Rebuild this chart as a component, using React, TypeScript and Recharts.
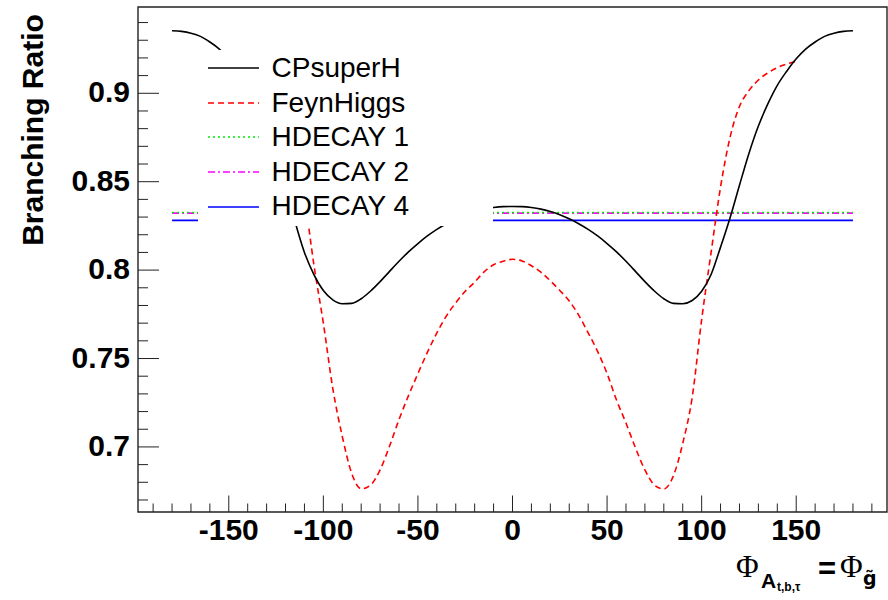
import { LineChart, Line, XAxis, YAxis, Legend, ReferenceArea } from "recharts";

document.body.style.margin = "0";

const FONT = '"Liberation Sans", Arial, Helvetica, sans-serif';
const SERIF = '"Liberation Serif", "DejaVu Serif", serif';

// phase grid for CPsuperH (degrees)
const phases = [
  -180, -175, -170, -165, -160, -155, -150, -145, -140, -135, -130, -125, -120,
  -115, -110, -105, -100, -95, -90, -85, -80, -75, -70, -65, -60, -55, -50, -45,
  -40, -35, -30, -25, -20, -15, -10, -5, 0, 5, 10, 15, 20, 25, 30, 35, 40, 45,
  50, 55, 60, 65, 70, 75, 80, 85, 90, 95, 100, 105, 110, 115, 120, 125, 130,
  135, 140, 145, 150, 155, 160, 165, 170, 175, 180,
];

const cpsuperh = [
  0.9354, 0.935, 0.934, 0.9322, 0.929, 0.925, 0.9195, 0.913, 0.905, 0.894,
  0.881, 0.865, 0.848, 0.8275, 0.81, 0.7975, 0.7885, 0.7832, 0.781, 0.7812,
  0.7838, 0.7882, 0.7935, 0.7993, 0.805, 0.8103, 0.815, 0.8193, 0.823, 0.8262,
  0.829, 0.8313, 0.8331, 0.8345, 0.8354, 0.8359, 0.836, 0.8359, 0.8354,
  0.8345, 0.8331, 0.8313, 0.829, 0.8262, 0.823, 0.8193, 0.815, 0.8103, 0.805,
  0.7993, 0.7935, 0.7882, 0.7838, 0.7812, 0.781, 0.7828, 0.788, 0.7975, 0.813,
  0.8295, 0.848, 0.866, 0.8815, 0.894, 0.9045, 0.9125, 0.9195, 0.925, 0.929,
  0.9322, 0.934, 0.935, 0.9354,
];

// FeynHiggs only covers -150..150
const feynPhases = [
  -150, -145, -140, -135, -130, -125, -120, -115, -110, -105, -100, -95, -90,
  -85, -80, -75, -70, -65, -60, -55, -50, -45, -40, -35, -30, -25, -20, -15,
  -10, -5, 0, 5, 10, 15, 20, 25, 30, 35, 40, 45, 50, 55, 60, 65, 70, 75, 80,
  85, 90, 95, 100, 105, 110, 115, 120, 125, 130, 135, 140, 145, 150,
];

const feynhiggs = [
  0.918, 0.9165, 0.9145, 0.9115, 0.9075, 0.9015, 0.8925, 0.875, 0.842, 0.803,
  0.77, 0.733, 0.706, 0.685, 0.6763, 0.6785, 0.687, 0.7005, 0.7155, 0.729,
  0.7415, 0.7535, 0.7645, 0.774, 0.7815, 0.788, 0.7932, 0.799, 0.803, 0.805,
  0.8061, 0.8052, 0.8025, 0.7988, 0.794, 0.7885, 0.7825, 0.7745, 0.7645,
  0.754, 0.7415, 0.7265, 0.7135, 0.6995, 0.687, 0.6785, 0.6762, 0.6835, 0.702,
  0.728, 0.772, 0.81, 0.847, 0.875, 0.8925, 0.9015, 0.9075, 0.9115, 0.9145,
  0.9165, 0.918,
];

// HDECAY results do not depend on the phase
const hdecayPhases = [-180, 180];
const hdecay1 = [0.8326, 0.8326];
const hdecay2 = [0.8322, 0.8322];
const hdecay4 = [0.8281, 0.8281];

const xTicks = [
  -190, -180, -170, -160, -150, -140, -130, -120, -110, -100, -90, -80, -70,
  -60, -50, -40, -30, -20, -10, 0, 10, 20, 30, 40, 50, 60, 70, 80, 90, 100, 110,
  120, 130, 140, 150, 160, 170, 180, 190,
];
const yTicks = [
  0.67, 0.68, 0.69, 0.7, 0.71, 0.72, 0.73, 0.74, 0.75, 0.76, 0.77, 0.78, 0.79,
  0.8, 0.81, 0.82, 0.83, 0.84, 0.85, 0.86, 0.87, 0.88, 0.89, 0.9, 0.91, 0.92,
  0.93, 0.94,
];

const X_DOMAIN: [number, number] = [-198, 198];
const Y_DOMAIN: [number, number] = [0.6632, 0.9488];

const toRows = (xs: number[], ys: number[]) =>
  xs.map((phase, i) => ({ phase, br: ys[i] }));

const series = [
  { name: "CPsuperH", color: "#000000", dash: undefined, width: 1.6, data: toRows(phases, cpsuperh) },
  { name: "FeynHiggs", color: "#ff0000", dash: "6 4", width: 1.6, data: toRows(feynPhases, feynhiggs) },
  { name: "HDECAY 1", color: "#00ee00", dash: "2 3", width: 1.6, data: toRows(hdecayPhases, hdecay1) },
  { name: "HDECAY 2", color: "#ff00ff", dash: "7 3 2 3", width: 1.6, data: toRows(hdecayPhases, hdecay2) },
  { name: "HDECAY 4", color: "#0000ff", dash: undefined, width: 1.6, data: toRows(hdecayPhases, hdecay4) },
];

// draw the magenta line under the green dots so both stay visible
const drawOrder = ["HDECAY 4", "HDECAY 2", "HDECAY 1", "FeynHiggs", "CPsuperH"];

function renderXTick(props: any) {
  const { x, y, payload } = props;
  const v = payload.value as number;
  const major = v % 50 === 0;
  return (
    <g>
      <line x1={x} x2={x} y1={y} y2={y - (major ? 16.5 : 8.5)} stroke="#222" strokeWidth={1} />
      {major && (
        <text x={x} y={y + 28} textAnchor="middle" fontFamily={FONT} fontWeight="bold" fontSize={30} fill="#000">
          {String(v)}
        </text>
      )}
    </g>
  );
}

function renderYTick(props: any) {
  const { x, y, payload } = props;
  const v = payload.value as number;
  const major = Math.round(v * 100) % 5 === 0;
  return (
    <g>
      <line x1={x} x2={x + (major ? 21 : 10)} y1={y} y2={y} stroke="#222" strokeWidth={1} />
      {major && (
        <text x={x - 8} y={y + 9} textAnchor="end" fontFamily={FONT} fontWeight="bold" fontSize={30} fill="#000">
          {String(v)}
        </text>
      )}
    </g>
  );
}

function renderYTitle() {
  return (
    <text x={43} y={130} transform="rotate(-90 43 130)" textAnchor="middle" fontFamily={FONT} fontWeight="bold" fontSize={30} fill="#000">
      Branching Ratio
    </text>
  );
}

function renderXTitle() {
  return (
    <text fill="#000">
      <tspan x={736} y={577} fontFamily={SERIF} fontSize={31}>Φ</tspan>
      <tspan x={761} y={588} fontFamily={FONT} fontWeight="bold" fontSize={21}>A</tspan>
      <tspan x={777} y={591} fontFamily={FONT} fontWeight="bold" fontSize={12}>t,b,τ</tspan>
      <tspan x={818} y={579} fontFamily={FONT} fontWeight="bold" fontSize={31}>=</tspan>
      <tspan x={840} y={577} fontFamily={SERIF} fontSize={31}>Φ</tspan>
      <tspan x={863} y={585} fontFamily='"DejaVu Sans", sans-serif' fontWeight="bold" fontSize={19}>{"g\u0303"}</tspan>
    </text>
  );
}

function renderLegend() {
  return (
    <div style={{ position: "relative", width: 295, height: 176, background: "#fff" }}>
      {series.map((s, i) => (
        <div
          key={s.name}
          style={{ position: "absolute", left: 0, top: 1 + i * 34.6, height: 34.6, display: "flex", alignItems: "center" }}
        >
          <svg width={51} height={6} style={{ marginLeft: 10, display: "block" }}>
            <line x1={0} x2={51} y1={3} y2={3} stroke={s.color} strokeWidth={s.width} strokeDasharray={s.dash} />
          </svg>
          <span style={{ marginLeft: 12.5, fontFamily: FONT, fontSize: 28, lineHeight: "34.6px", color: "#000", whiteSpace: "nowrap" }}>
            {s.name}
          </span>
        </div>
      ))}
    </div>
  );
}

export default function App() {
  const ordered = drawOrder.map((n) => series.find((s) => s.name === n)!);
  return (
    <div style={{ width: 888, height: 600, background: "#fff" }}>
      <LineChart width={888} height={600} margin={{ top: 7, right: 1, bottom: 87, left: 137 }}>
        <XAxis
          type="number"
          dataKey="phase"
          domain={X_DOMAIN}
          allowDataOverflow
          ticks={xTicks}
          interval={0}
          tick={renderXTick}
          tickLine={false}
          axisLine={false}
          tickSize={0}
          tickMargin={0}
          height={1}
          label={renderXTitle}
        />
        <YAxis
          type="number"
          domain={Y_DOMAIN}
          allowDataOverflow
          ticks={yTicks}
          interval={0}
          tick={renderYTick}
          tickLine={false}
          axisLine={false}
          tickSize={0}
          tickMargin={0}
          width={1}
          label={renderYTitle}
        />
        <ReferenceArea x1={X_DOMAIN[0]} x2={X_DOMAIN[1]} y1={Y_DOMAIN[0]} y2={Y_DOMAIN[1]} fill="none" stroke="#222" strokeWidth={1.4} />
        {ordered.map((s) => (
          <Line
            key={s.name}
            data={s.data}
            dataKey="br"
            name={s.name}
            type="monotone"
            stroke={s.color}
            strokeWidth={s.width}
            strokeDasharray={s.dash}
            dot={false}
            activeDot={false}
            isAnimationActive={false}
          />
        ))}
        <Legend
          content={renderLegend}
          layout="horizontal"
          verticalAlign="middle"
          align="center"
          wrapperStyle={{ left: 198, top: 50, width: 295, height: 176 }}
        />
      </LineChart>
    </div>
  );
}
